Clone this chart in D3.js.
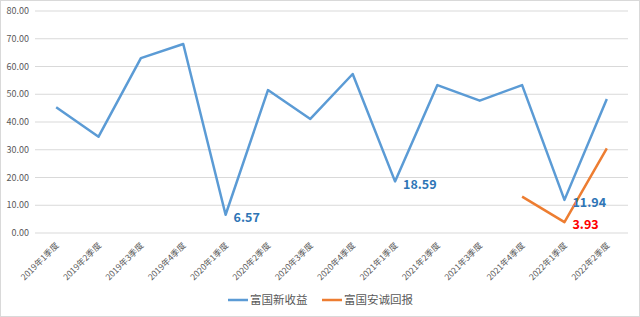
<!DOCTYPE html>
<html>
<head>
<meta charset="utf-8">
<script src="https://cdn.jsdelivr.net/npm/d3@7"></script>
<style>
  body { margin: 0; background: #fff; }
  svg { display: block; font-family: "Noto Sans CJK SC", "Microsoft YaHei", sans-serif; }
</style>
</head>
<body>
<svg id="chart" width="640" height="317"></svg>
<script>
var categories = ["2019年1季度", "2019年2季度", "2019年3季度", "2019年4季度",
    "2020年1季度", "2020年2季度", "2020年3季度", "2020年4季度",
    "2021年1季度", "2021年2季度", "2021年3季度", "2021年4季度",
    "2022年1季度", "2022年2季度"];
var xinShouYi = [45.3, 34.7, 63.0, 68.1, 6.57, 51.5, 41.1, 57.3, 18.59, 53.3, 47.7, 53.3, 11.94, 48.3];
var anChengHuiBao = [null, null, null, null, null, null, null, null, null, null, null, 13.1, 3.93, 30.5];
var yTicks = [0, 10, 20, 30, 40, 50, 60, 70, 80];
// labelled points: [series, index]
var callouts = [[0, 4], [0, 8], [0, 12], [1, 12]];
var seriesNames = ["富国新收益", "富国安诚回报"];
var colors = ["#5B9BD5", "#ED7D31"];
var labelColors = ["#2E75B6", "#FF0000"];

var margin = { top: 11, right: 12, bottom: 84, left: 35 },
    width = 640 - margin.left - margin.right,
    height = 317 - margin.top - margin.bottom;

var svg = d3.select("#chart");
svg.append("rect")
    .attr("x", 0.5).attr("y", 0.5)
    .attr("width", 639).attr("height", 316)
    .style("fill", "#fff").style("stroke", "#D9D9D9");

var g = svg.append("g").attr("transform", "translate(" + margin.left + "," + margin.top + ")");

var x = d3.scaleBand().domain(categories).range([0, width]);
var y = d3.scaleLinear().domain([0, 80]).range([height, 0]);

//gridlines
g.selectAll(".grid")
    .data(yTicks)
    .enter().append("line")
    .attr("x1", 0).attr("x2", width)
    .attr("y1", function(d) { return y(d); })
    .attr("y2", function(d) { return y(d); })
    .style("stroke", "#D9D9D9")
    .style("stroke-width", "1px");

//y labels
g.selectAll(".ylab")
    .data(yTicks)
    .enter().append("text")
    .attr("x", -6)
    .attr("y", function(d) { return y(d); })
    .attr("dy", "0.35em")
    .attr("text-anchor", "end")
    .style("font-size", "9px")
    .style("fill", "#595959")
    .text(function(d) { return d.toFixed(2); });

//x labels
g.selectAll(".xlab")
    .data(categories)
    .enter().append("text")
    .attr("transform", function(d) {
        return "translate(" + (x(d) + x.bandwidth() / 2 + 1) + "," + (height + 11) + ") rotate(-45)";
    })
    .attr("text-anchor", "end")
    .attr("dy", "0.35em")
    .style("font-size", "8.5px")
    .style("fill", "#595959")
    .text(function(d) { return d; });

var line = d3.line()
    .defined(function(d) { return d != null; })
    .x(function(d, i) { return x(categories[i]) + x.bandwidth() / 2; })
    .y(function(d) { return y(d); });

[xinShouYi, anChengHuiBao].forEach(function(s, k) {
    g.append("path")
        .datum(s)
        .attr("d", line)
        .style("fill", "none")
        .style("stroke", colors[k])
        .style("stroke-width", "2.5px")
        .style("stroke-linejoin", "round");
});

var all = [xinShouYi, anChengHuiBao];
g.selectAll(".callout")
    .data(callouts)
    .enter().append("text")
    .attr("x", function(d) { return x(categories[d[1]]) + x.bandwidth() / 2 + 8; })
    .attr("y", function(d) { return y(all[d[0]][d[1]]) + 3; })
    .attr("dy", "0.35em")
    .style("font-size", "12.5px")
    .style("font-weight", "bold")
    .style("fill", function(d) { return labelColors[d[0]]; })
    .text(function(d) { return all[d[0]][d[1]].toFixed(2); });

//legend
var legendX = [228, 322];
var legend = svg.selectAll(".legend")
    .data(seriesNames)
    .enter().append("g")
    .attr("transform", function(d, i) { return "translate(" + legendX[i] + ",300)"; });
legend.append("line")
    .attr("x1", 0).attr("x2", 20)
    .style("stroke", function(d, i) { return colors[i]; })
    .style("stroke-width", "2.5px");
legend.append("text")
    .attr("x", 22)
    .attr("dy", "0.35em")
    .style("font-size", "11.5px")
    .style("fill", "#595959")
    .text(function(d) { return d; });
</script>
</body>
</html>
